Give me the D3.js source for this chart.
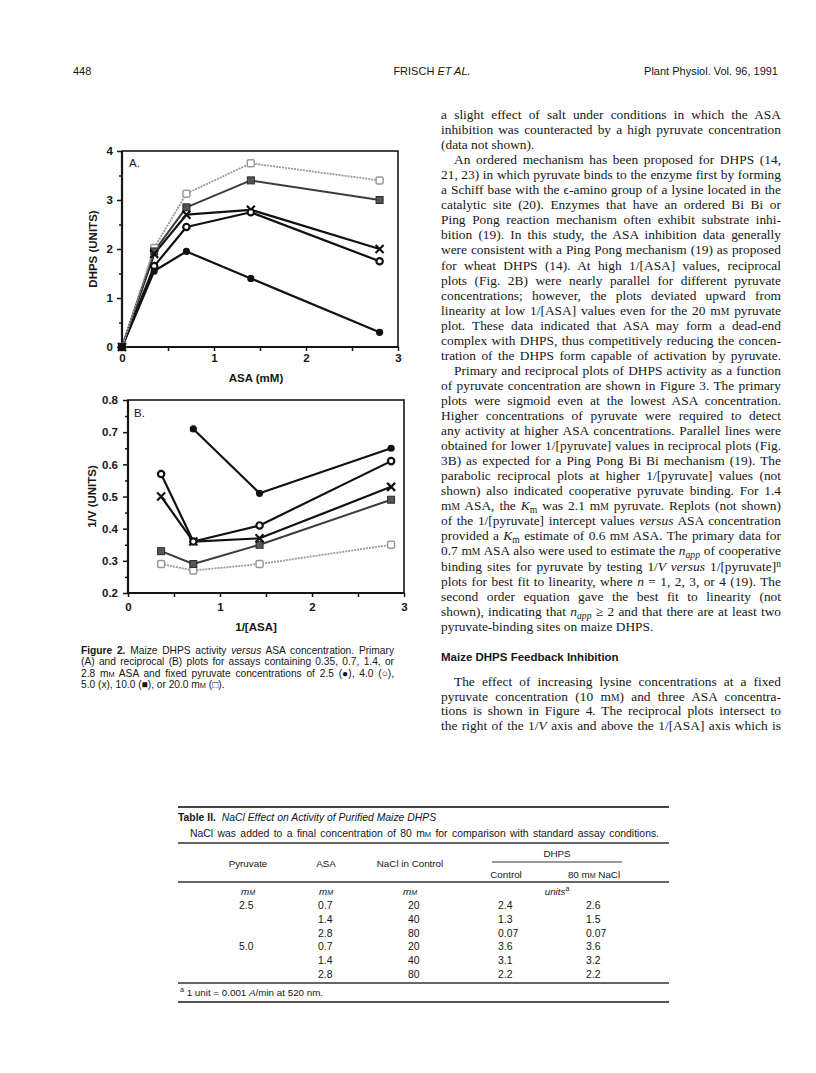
<!DOCTYPE html>
<html>
<head>
<meta charset="utf-8">
<script src="https://cdn.jsdelivr.net/npm/d3@7"></script>
<style>
  body { margin: 0; background: #fff; }
  text { white-space: pre; }
</style>
</head>
<body>
<div id="page"></div>
<script>
// ---- data: Figure 2A (DHPS units vs ASA mM), one array per pyruvate level
var asaConc = [0, 0.35, 0.7, 1.4, 2.8];
var dhps25 = [0, 1.55, 1.95, 1.4, 0.3];
var dhps40 = [0, 1.65, 2.45, 2.75, 1.75];
var dhps50 = [0, 1.9, 2.7, 2.8, 2.0];
var dhps100 = [0, 1.95, 2.85, 3.4, 3.0];
var dhps200 = [0, 2.02, 3.13, 3.75, 3.4];

// ---- data: Figure 2B (1/V vs 1/[ASA])
var recipASA = [0.36, 0.71, 1.43, 2.86];
var recip25 = [null, 0.71, 0.51, 0.65];
var recip40 = [0.57, 0.36, 0.41, 0.61];
var recip50 = [0.50, 0.36, 0.37, 0.53];
var recip100 = [0.33, 0.29, 0.35, 0.49];
var recip200 = [0.29, 0.27, 0.29, 0.35];

var pyruvateLevels = ["2.5", "4.0", "5.0", "10.0", "20.0"];
var ticksX = [0, 1, 2, 3];
var ticksYA = [0, 1, 2, 3, 4];
var ticksYB = [0.2, 0.3, 0.4, 0.5, 0.6, 0.7, 0.8];

// ---- data: Table II
var tPyruvate = ["2.5", "", "", "5.0", "", ""];
var tASA = ["0.7", "1.4", "2.8", "0.7", "1.4", "2.8"];
var tNaCl = ["20", "40", "80", "20", "40", "80"];
var tControl = ["2.4", "1.3", "0.07", "3.6", "3.1", "2.2"];
var tSalt = ["2.6", "1.5", "0.07", "3.6", "3.2", "2.2"];

var SANS = "'Liberation Sans', Arial, Helvetica, sans-serif";
var SERIF = "'Liberation Serif', 'Times New Roman', serif";
var INK = "#161616";

var svg = d3.select("#page").append("svg")
    .attr("width", 816)
    .attr("height", 1073)
    .style("background", "#fff");

// small markup: {b:..} {i:..} {sub:..} {isub:..} {sup:..} {sc:..} {isc:..}
function rich(str, x, y, o) {
  var size = o.size;
  var t = svg.append("text")
      .attr("x", x).attr("y", y)
      .attr("fill", INK)
      .style("font-family", o.family)
      .style("font-size", size + "px");
  if (o.anchor) t.attr("text-anchor", o.anchor);
  if (o.weight) t.style("font-weight", o.weight);
  var shift = 0;
  function add(txt, kind) {
    if (!txt) return;
    var s = t.append("tspan").text(txt);
    var dy = 0;
    if (kind == "sub" || kind == "isub") dy = 3;
    if (kind == "sup") dy = -4;
    if (dy != shift) s.attr("dy", dy - shift);
    shift = dy;
    if (kind == "b") s.style("font-weight", "bold");
    if (kind == "i" || kind == "isub" || kind == "isc") s.style("font-style", "italic");
    if (kind != "n" && kind != "b" && kind != "i") s.style("font-size", (size * 0.72) + "px");
  }
  var re = /\{(\w+):([^}]*)\}/g, last = 0, m;
  while ((m = re.exec(str))) {
    add(str.slice(last, m.index), "n");
    add(m[2], m[1]);
    last = re.lastIndex;
  }
  add(str.slice(last), "n");
  // justify by widening the word gaps only
  if (o.width) {
    var natural = t.node().getComputedTextLength();
    var gaps = (t.text().match(/ /g) || []).length;
    if (gaps) t.style("word-spacing", ((o.width - natural) / gaps) + "px");
  }
  return t;
}

// ---- running head
rich("448", 73, 75, {family: SANS, size: 11});
rich("FRISCH {i:ET AL.}", 432, 75, {family: SANS, size: 11, anchor: "middle"});
rich("Plant Physiol. Vol. 96, 1991", 778, 75, {family: SANS, size: 11, anchor: "end"});

// ---- series styles
var styles = {
  "2.5": {stroke: "#111", width: 2.2, dash: null},
  "4.0": {stroke: "#111", width: 2.2, dash: null},
  "5.0": {stroke: "#111", width: 2.2, dash: null},
  "10.0": {stroke: "#3c3c3c", width: 2, dash: null},
  "20.0": {stroke: "#9a9a9a", width: 1.8, dash: "2,1"}
};

function marker(g, level, cx, cy) {
  if (level == "2.5") {
    g.append("circle").attr("cx", cx).attr("cy", cy).attr("r", 3.6).attr("fill", "#111");
  } else if (level == "4.0") {
    g.append("circle").attr("cx", cx).attr("cy", cy).attr("r", 3.2)
      .attr("fill", "#fff").attr("stroke", "#111").attr("stroke-width", 2.2);
  } else if (level == "5.0") {
    g.append("path").attr("d", "M-4,-4L4,4M-4,4L4,-4")
      .attr("transform", "translate(" + cx + "," + cy + ")")
      .attr("stroke", "#111").attr("stroke-width", 2.2);
  } else if (level == "10.0") {
    g.append("rect").attr("x", cx - 3.5).attr("y", cy - 3.5).attr("width", 7).attr("height", 7)
      .attr("fill", "#555").attr("stroke", "#2a2a2a").attr("stroke-width", 1);
  } else {
    g.append("rect").attr("x", cx - 3.5).attr("y", cy - 3.5).attr("width", 7).attr("height", 7)
      .attr("rx", 1.5)
      .attr("fill", "#fff").attr("stroke", "#999").attr("stroke-width", 1.5);
  }
}

function drawPanel(p) {
  var g = svg.append("g");
  var x = d3.scaleLinear().domain([0, 3]).range([p.x0, p.x1]);
  var y = d3.scaleLinear().domain(p.yDomain).range([p.y1, p.y0]);

  // minor ticks
  g.append("g").attr("transform", "translate(" + p.x0 + ",0)")
    .call(d3.axisLeft(y).tickValues(p.yMinor).tickSize(3).tickSizeOuter(0).tickFormat(""));
  g.append("g").attr("transform", "translate(0," + p.y1 + ")")
    .call(d3.axisBottom(x).tickValues([0.5, 1.5, 2.5]).tickSize(4).tickSizeOuter(0).tickFormat(""));

  // major ticks
  g.append("g").attr("transform", "translate(" + p.x0 + ",0)")
    .call(d3.axisLeft(y).tickValues(p.yTicks).tickSize(5).tickSizeOuter(0)
      .tickPadding(p.yPad).tickFormat(p.yFormat));
  g.append("g").attr("transform", "translate(0," + p.y1 + ")")
    .call(d3.axisBottom(x).tickValues(ticksX).tickSize(4).tickSizeOuter(0)
      .tickPadding(p.xPad).tickFormat(d3.format("d")));

  g.selectAll(".domain").remove();
  g.selectAll(".tick line").attr("stroke", INK).attr("stroke-width", 1.5);
  g.selectAll(".tick text").attr("fill", INK)
    .style("font-family", SANS).style("font-size", "11.5px").style("font-weight", "bold");

  // frame
  g.append("rect").attr("x", p.x0).attr("y", p.y0)
    .attr("width", p.x1 - p.x0).attr("height", p.y1 - p.y0)
    .attr("fill", "none").attr("stroke", INK).attr("stroke-width", 1.6);
  g.append("path")
    .attr("d", "M" + p.x0 + "," + p.y0 + "V" + p.y1 + "H" + p.x1)
    .attr("fill", "none").attr("stroke", INK).attr("stroke-width", 2.2);

  // series
  pyruvateLevels.forEach(function(level, i) {
    var vals = p.series[i];
    var pts = p.xs.map(function(v, j) { return [v, vals[j]]; });
    var st = styles[level];
    var line = d3.line()
      .defined(function(d) { return d[1] != null; })
      .x(function(d) { return x(d[0]); })
      .y(function(d) { return y(d[1]); });
    g.append("path").datum(pts)
      .attr("d", line)
      .attr("fill", "none")
      .attr("stroke", st.stroke)
      .attr("stroke-width", st.width)
      .attr("stroke-dasharray", st.dash)
      .attr("stroke-linejoin", "round");
  });
  // markers drawn in reverse so the dark series sit on top
  pyruvateLevels.slice().reverse().forEach(function(level) {
    var i = pyruvateLevels.indexOf(level);
    var vals = p.series[i];
    p.xs.forEach(function(v, j) {
      if (vals[j] == null) return;
      marker(g, level, x(v), y(vals[j]));
    });
  });

  // labels
  g.append("text").attr("x", p.letterX).attr("y", p.letterY)
    .attr("fill", INK).style("font-family", SANS).style("font-size", "11.5px")
    .text(p.letter);
  g.append("text").attr("x", p.xTitleX).attr("y", p.xTitleY)
    .attr("text-anchor", "middle").attr("fill", INK)
    .style("font-family", SANS).style("font-size", "11.5px").style("font-weight", "bold")
    .text(p.xTitle);
  g.append("text")
    .attr("transform", "translate(" + p.yTitleX + "," + ((p.y0 + p.y1) / 2) + ") rotate(-90)")
    .attr("text-anchor", "middle").attr("fill", INK)
    .style("font-family", SANS).style("font-size", "11.5px").style("font-weight", "bold")
    .text(p.yTitle);
}

drawPanel({
  x0: 122, x1: 398, y0: 151, y1: 347,
  yDomain: [0, 4], yTicks: ticksYA, yMinor: [0.5, 1.5, 2.5, 3.5],
  yFormat: d3.format("d"), yPad: 4, xPad: 3,
  xs: asaConc,
  series: [dhps25, dhps40, dhps50, dhps100, dhps200],
  letter: "A.", letterX: 129, letterY: 167,
  xTitle: "ASA (mM)", xTitleX: 256, xTitleY: 382,
  yTitle: "DHPS (UNITS)", yTitleX: 97
});

drawPanel({
  x0: 128, x1: 404, y0: 400, y1: 593,
  yDomain: [0.2, 0.8], yTicks: ticksYB,
  yMinor: [0.25, 0.35, 0.45, 0.55, 0.65, 0.75],
  yFormat: d3.format(".1f"), yPad: 5, xPad: 6,
  xs: recipASA,
  series: [recip25, recip40, recip50, recip100, recip200],
  letter: "B.", letterX: 134, letterY: 417,
  xTitle: "1/[ASA]", xTitleX: 256, xTitleY: 631,
  yTitle: "1/V (UNITS)", yTitleX: 96
});

// ---- figure legend
var captionLines = [
  ["{b:Figure 2.} Maize DHPS activity {i:versus} ASA concentration. Primary", true],
  ["(A) and reciprocal (B) plots for assays containing 0.35, 0.7, 1.4, or", true],
  ["2.8 m{sc:M} ASA and fixed pyruvate concentrations of 2.5 (\u25CF), 4.0 (\u25CB),", true],
  ["5.0 (x), 10.0 (\u25A0), or 20.0 m{sc:M} (\u25A1).", false]
];
captionLines.forEach(function(l, i) {
  rich(l[0], 81, 654 + i * 11.4, {family: SANS, size: 10.2, width: l[1] ? 313 : null});
});

// ---- right column text: [markup, indented, justified]
var colLines = [
  ["a slight effect of salt under conditions in which the ASA", 0, 1],
  ["inhibition was counteracted by a high pyruvate concentration", 0, 1],
  ["(data not shown).", 0, 0],
  ["An ordered mechanism has been proposed for DHPS (14,", 1, 1],
  ["21, 23) in which pyruvate binds to the enzyme first by forming", 0, 1],
  ["a Schiff base with the \u03F5-amino group of a lysine located in the", 0, 1],
  ["catalytic site (20). Enzymes that have an ordered Bi Bi or", 0, 1],
  ["Ping Pong reaction mechanism often exhibit substrate inhi-", 0, 1],
  ["bition (19). In this study, the ASA inhibition data generally", 0, 1],
  ["were consistent with a Ping Pong mechanism (19) as proposed", 0, 1],
  ["for wheat DHPS (14). At high 1/[ASA] values, reciprocal", 0, 1],
  ["plots (Fig. 2B) were nearly parallel for different pyruvate", 0, 1],
  ["concentrations; however, the plots deviated upward from", 0, 1],
  ["linearity at low 1/[ASA] values even for the 20 m{sc:M} pyruvate", 0, 1],
  ["plot. These data indicated that ASA may form a dead-end", 0, 1],
  ["complex with DHPS, thus competitively reducing the concen-", 0, 1],
  ["tration of the DHPS form capable of activation by pyruvate.", 0, 1],
  ["Primary and reciprocal plots of DHPS activity as a function", 1, 1],
  ["of pyruvate concentration are shown in Figure 3. The primary", 0, 1],
  ["plots were sigmoid even at the lowest ASA concentration.", 0, 1],
  ["Higher concentrations of pyruvate were required to detect", 0, 1],
  ["any activity at higher ASA concentrations. Parallel lines were", 0, 1],
  ["obtained for lower 1/[pyruvate] values in reciprocal plots (Fig.", 0, 1],
  ["3B) as expected for a Ping Pong Bi Bi mechanism (19). The", 0, 1],
  ["parabolic reciprocal plots at higher 1/[pyruvate] values (not", 0, 1],
  ["shown) also indicated cooperative pyruvate binding. For 1.4", 0, 1],
  ["m{sc:M} ASA, the {i:K}{sub:m} was 2.1 m{sc:M} pyruvate. Replots (not shown)", 0, 1],
  ["of the 1/[pyruvate] intercept values {i:versus} ASA concentration", 0, 1],
  ["provided a {i:K}{sub:m} estimate of 0.6 m{sc:M} ASA. The primary data for", 0, 1],
  ["0.7 m{sc:M} ASA also were used to estimate the {i:n}{isub:app} of cooperative", 0, 1],
  ["binding sites for pyruvate by testing 1/{i:V versus} 1/[pyruvate]{sup:n}", 0, 1],
  ["plots for best fit to linearity, where {i:n} = 1, 2, 3, or 4 (19). The", 0, 1],
  ["second order equation gave the best fit to linearity (not", 0, 1],
  ["shown), indicating that {i:n}{isub:app} \u2265 2 and that there are at least two", 0, 1],
  ["pyruvate-binding sites on maize DHPS.", 0, 0]
];
var colX = 441, colW = 340, indent = 13, bodySize = 13.4;
colLines.forEach(function(l, i) {
  var x0 = colX + (l[1] ? indent : 0);
  rich(l[0], x0, 119 + i * 15.05,
    {family: SERIF, size: bodySize, width: l[2] ? colW - (l[1] ? indent : 0) : null});
});

rich("Maize DHPS Feedback Inhibition", colX, 661,
  {family: SANS, size: 11.5, weight: "bold"});

var sectionLines = [
  ["The effect of increasing lysine concentrations at a fixed", 1],
  ["pyruvate concentration (10 m{sc:M}) and three ASA concentra-", 0],
  ["tions is shown in Figure 4. The reciprocal plots intersect to", 0],
  ["the right of the 1/{i:V} axis and above the 1/[ASA] axis which is", 0]
];
sectionLines.forEach(function(l, i) {
  var x0 = colX + (l[1] ? indent : 0);
  rich(l[0], x0, 686 + i * 14.6,
    {family: SERIF, size: bodySize, width: colW - (l[1] ? indent : 0)});
});

// ---- Table II
var tx0 = 178, tx1 = 669, tSize = 10.4;
function rule(y, w, c) {
  svg.append("line").attr("x1", tx0).attr("x2", tx1).attr("y1", y).attr("y2", y)
    .attr("stroke", c || "#333").attr("stroke-width", w);
}
rule(807, 2, "#444");
rich("{b:Table II.}  {i:NaCl Effect on Activity of Purified Maize DHPS}", tx0, 821,
  {family: SANS, size: tSize});
rich("NaCl was added to a final concentration of 80 m{sc:M} for comparison with standard assay conditions.",
  190, 837, {family: SANS, size: tSize, width: 469});
rule(843, 1.3);

var colCenters = [248, 326, 410, 506, 594];
rich("DHPS", 557, 857, {family: SANS, size: 9.8, anchor: "middle"});
svg.append("line").attr("x1", 492).attr("x2", 622).attr("y1", 862).attr("y2", 862)
  .attr("stroke", "#333").attr("stroke-width", 1.2);
["Pyruvate", "ASA", "NaCl in Control"].forEach(function(h, i) {
  rich(h, colCenters[i], 867, {family: SANS, size: 9.8, anchor: "middle"});
});
rich("Control", colCenters[3], 878, {family: SANS, size: 9.8, anchor: "middle"});
rich("80 m{sc:M} NaCl", colCenters[4], 878, {family: SANS, size: 9.8, anchor: "middle"});
rule(882, 1.3);
[0, 1, 2].forEach(function(i) {
  rich("{i:m}{isc:M}", colCenters[i], 895, {family: SANS, size: 9.8, anchor: "middle"});
});
rich("{i:units}{sup:a}", 557, 895, {family: SANS, size: 9.8, anchor: "middle"});

var colLeft = [239, 318, 408, 498, 586];
var tableCols = [tPyruvate, tASA, tNaCl, tControl, tSalt];
tableCols.forEach(function(col, c) {
  col.forEach(function(v, r) {
    if (!v) return;
    rich(v, colLeft[c], 909 + r * 13.8, {family: SANS, size: tSize});
  });
});
rule(983, 1.3);
rich("{sup:a} 1 unit = 0.001 {i:A}/min at 520 nm.", 180, 996, {family: SANS, size: 9.8});
rule(1002, 1.8, "#555");
</script>
</body>
</html>
